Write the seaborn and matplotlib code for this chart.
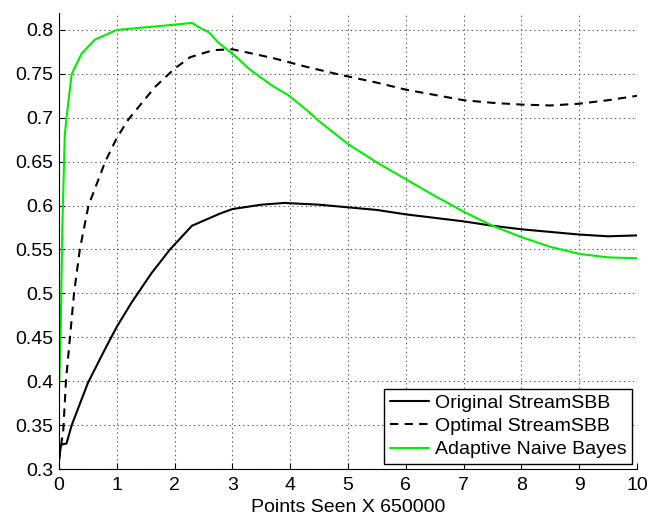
import matplotlib
matplotlib.use("Agg")
import matplotlib.pyplot as plt
import seaborn as sns

# Original StreamSBB
orig_x = [0, 0.03, 0.05, 0.13, 0.22, 0.5, 0.8, 1.0, 1.26, 1.6, 1.92, 2.3, 2.79, 3.0,
          3.5, 3.9, 4.5, 5.0, 5.5, 6.0, 6.5, 7.0, 7.5, 8.0, 8.5, 9.0, 9.5, 10]
orig_y = [0.31, 0.325, 0.328, 0.329, 0.35, 0.398, 0.437, 0.462, 0.49, 0.523, 0.55, 0.577,
          0.591, 0.596, 0.601, 0.603, 0.601, 0.598, 0.595, 0.590, 0.586, 0.582, 0.577,
          0.573, 0.570, 0.567, 0.565, 0.566]

# Optimal StreamSBB
opt_x = [0, 0.075, 0.12, 0.19, 0.26, 0.36, 0.51, 0.8, 1.0, 1.2, 1.66, 2.0, 2.27, 2.67,
         3.0, 3.7, 4.28, 4.86, 5.5, 6.0, 6.5, 7.0, 7.5, 8.0, 8.5, 9.0, 9.5, 10]
opt_y = [0.31, 0.345, 0.40, 0.45, 0.50, 0.55, 0.60, 0.65, 0.677, 0.698, 0.735, 0.756,
         0.769, 0.777, 0.778, 0.768, 0.758, 0.749, 0.74, 0.732, 0.726, 0.72, 0.717,
         0.715, 0.714, 0.716, 0.72, 0.725]

# Adaptive Naive Bayes
anb_x = [0, 0.03, 0.057, 0.1, 0.13, 0.22, 0.39, 0.62, 1.0, 1.66, 2.0, 2.3, 2.45, 2.6,
         2.75, 3.07, 3.3, 3.7, 3.96, 4.28, 4.5, 5.0, 5.5, 6.0, 6.5, 7.0, 7.5, 8.0, 8.5,
         9.0, 9.5, 10]
anb_y = [0.39, 0.46, 0.573, 0.68, 0.70, 0.75, 0.773, 0.789, 0.80, 0.804, 0.806, 0.808,
         0.802, 0.797, 0.786, 0.769, 0.755, 0.736, 0.726, 0.709, 0.696, 0.670, 0.649,
         0.630, 0.611, 0.593, 0.577, 0.564, 0.553, 0.545, 0.541, 0.540]

x_ticks = list(range(0, 11))
y_ticks = [0.3, 0.35, 0.4, 0.45, 0.5, 0.55, 0.6, 0.65, 0.7, 0.75, 0.8]

sns.set_style("white")
plt.rcParams['font.family'] = ['Liberation Sans', 'DejaVu Sans']
plt.rcParams['text.color'] = 'black'
plt.rcParams['axes.labelcolor'] = 'black'
plt.rcParams['xtick.color'] = 'black'
plt.rcParams['ytick.color'] = 'black'

fig = plt.figure(figsize=(6.58, 5.21), dpi=100)
ax = fig.add_axes([59/658, 1 - 469/521, (637 - 59)/658, (469 - 13)/521])

sns.lineplot(x=orig_x, y=orig_y, ax=ax, color='black', lw=1.5,
             label='Original StreamSBB', estimator=None, sort=False)
sns.lineplot(x=opt_x, y=opt_y, ax=ax, color='black', lw=1.5,
             label='Optimal StreamSBB', estimator=None, sort=False)
ax.lines[-1].set_dashes((4, 3))
sns.lineplot(x=anb_x, y=anb_y, ax=ax, color='#00ee00', lw=1.5,
             label='Adaptive Naive Bayes', estimator=None, sort=False)

ax.set_xlim(0, 10)
ax.set_ylim(0.3, 0.8193)
ax.set_xticks(x_ticks)
ax.set_yticks(y_ticks)
ax.set_xticklabels([str(t) for t in x_ticks])
ax.set_yticklabels([f"{t:g}" for t in y_ticks])
ax.grid(True, linestyle=(0, (1.3, 3)), color='#555555', linewidth=0.75)
ax.tick_params(axis='both', direction='in', length=4, width=0.8, labelsize=14,
               left=True, bottom=True)
ax.tick_params(axis='x', pad=6)
ax.tick_params(axis='y', pad=4)
for s in ['top', 'right']:
    ax.spines[s].set_visible(False)
for s in ['left', 'bottom']:
    ax.spines[s].set_color('black')
    ax.spines[s].set_linewidth(0.8)

ax.set_xlabel("Points Seen X 650000", fontsize=14, labelpad=3)
ax.set_ylabel("")

leg = ax.legend(loc='lower right', fontsize=14, frameon=True, fancybox=False,
                handlelength=2.0, handletextpad=0.3, borderpad=0.3,
                labelspacing=0.28, borderaxespad=0.25)
leg.get_frame().set_edgecolor('black')
leg.get_frame().set_linewidth(1.0)
leg.get_frame().set_alpha(1)

fig.savefig("out.png", dpi=100)
